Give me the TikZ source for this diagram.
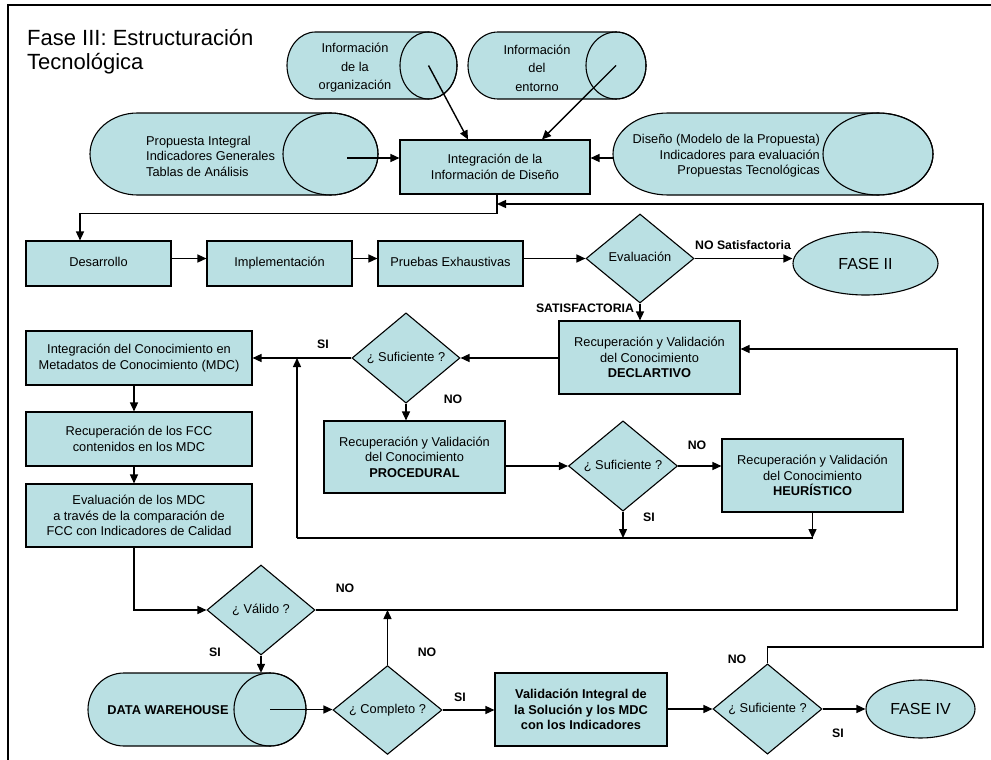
\documentclass[tikz,border=0pt]{standalone}
\usepackage{fontspec}
\setmainfont{Liberation Sans}
\usetikzlibrary{shapes.geometric,arrows.meta}
\definecolor{flowfill}{RGB}{186,224,227}
\newcommand\bodyfont{\fontsize{12.8}{15.5}\selectfont}
\tikzset{
  outline/.style={draw=black, line width=1.1pt, fill=flowfill},
  procbox/.style={outline, rectangle, inner sep=0pt, align=center, font=\bodyfont},
  decision/.style={outline, diamond, inner sep=0pt, align=center, font=\bodyfont},
  terminal/.style={outline, ellipse, inner sep=0pt, font=\fontsize{16}{18}\selectfont},
  oneline/.style={text height=9.3pt, text depth=2.7pt},
  flow/.style={line width=1.4pt, -{Triangle[length=9pt,width=8pt]}},
  plain/.style={line width=1.4pt},
  tag/.style={font=\bfseries\fontsize{12.3}{14}\selectfont, inner sep=0pt},
  drumtext/.style={inner sep=0pt, font=\bodyfont},
}
% horizontal drum: name, left, right, top, bottom, end radius
\newcommand\drumshape[6]{%
  \filldraw[outline] ({#2+#6},#4) -- ({#3-#6},#4)
     arc[start angle=270, end angle=450, x radius=#6, y radius={(#5-#4)/2}]
     -- ({#2+#6},#5)
     arc[start angle=90, end angle=270, x radius=#6, y radius={(#5-#4)/2}] -- cycle;
  \draw[line width=1.1pt] ({#3-#6},{(#4+#5)/2}) ellipse [x radius=#6, y radius={(#5-#4)/2}];
  \coordinate (#1) at ({#3-#6},{(#4+#5)/2});
  \node[inner sep=0pt, minimum width={#3-#2}, minimum height={#5-#4}] (#1-body) at ({(#2+#3)/2},{(#4+#5)/2}) {};
}
\begin{document}
\begin{tikzpicture}[x=1pt, y=-1pt]
\useasboundingbox (0,0) rectangle (991,760);
\fill[white] (0,0) rectangle (991,760);

% frame
\draw[line width=1.8pt] (8,760) -- (8,5) -- (991,5);

% heading
\node[anchor=base west, inner sep=0pt, font=\fontsize{22}{24}\selectfont] (title1) at (27,46) {Fase III: Estructuración};
\node[anchor=base west, inner sep=0pt, font=\fontsize{22}{24}\selectfont] (title2) at (27,70) {Tecnológica};

% information sources
\drumshape{org}{287}{457}{32}{99}{28.5}
\node[drumtext, align=center, font=\fontsize{12.8}{18.5}\selectfont] (orgtxt) at (355,68) {Información\\de la\\organización};
\drumshape{ent}{468}{646}{32}{99}{30}
\node[drumtext, align=center, font=\fontsize{12.8}{18.5}\selectfont] (enttxt) at (537,68) {Información\\del\\entorno};
\drumshape{prop}{90}{378}{113}{195}{47.5}
\node[drumtext, anchor=west, align=left] (proptxt) at (146,156) {Propuesta Integral\\Indicadores Generales\\Tablas de Análisis};
\drumshape{dis}{613}{933}{113}{195}{55}
\node[drumtext, anchor=east, align=right] (distxt) at (820,156) {Diseño (Modelo de la Propuesta)\\Indicadores para evaluación\\Propuestas Tecnológicas};

\node[procbox, minimum width=190pt, minimum height=54pt] (integ) at (495,167) {Integración de la\\Información de Diseño};

% development row
\node[procbox, oneline, minimum width=145pt, minimum height=45pt] (des) at (98.5,263.5) {Desarrollo};
\node[procbox, oneline, minimum width=145pt, minimum height=45pt] (imp) at (279.5,263.5) {Implementación};
\node[procbox, oneline, minimum width=145pt, minimum height=45pt] (pru) at (450.5,263.5) {Pruebas Exhaustivas};
\node[decision, oneline, minimum width=108pt, minimum height=89pt] (eval) at (640,258.5) {Evaluación};
\node[terminal, minimum width=145pt, minimum height=63pt, text height=11.5pt, text depth=0pt] (fase2) at (865.5,263.5) {FASE II};

% knowledge recovery
\node[procbox, minimum width=181pt, minimum height=73pt] (decl) at (649.5,357.5) {Recuperación y Validación\\del Conocimiento\\\textbf{DECLARTIVO}};
\node[decision, oneline, minimum width=108pt, minimum height=90pt] (suf1) at (406,358) {¿ Suficiente ?};
\node[procbox, minimum width=181pt, minimum height=72pt] (proc) at (414.5,457) {Recuperación y Validación\\del Conocimiento\\\textbf{PROCEDURAL}};
\node[decision, oneline, minimum width=109pt, minimum height=89pt] (suf2) at (623,466) {¿ Suficiente ?};
\node[procbox, minimum width=181pt, minimum height=73pt] (heur) at (812.5,475.5) {Recuperación y Validación\\del Conocimiento\\\textbf{HEURÍSTICO}};

% metadata column
\node[procbox, minimum width=226pt, minimum height=54pt] (intc) at (139,358) {Integración del Conocimiento en\\Metadatos de Conocimiento (MDC)};
\node[procbox, minimum width=226pt, minimum height=54pt] (fcc) at (139,439) {Recuperación de los FCC\\contenidos en los MDC};
\node[procbox, minimum width=226pt, minimum height=63pt] (evm) at (139,515.5) {Evaluación de los MDC\\a través de la comparación de\\FCC con Indicadores de Calidad};

% validation row
\node[decision, oneline, minimum width=108pt, minimum height=90pt] (valido) at (261,610) {¿ Válido ?};
\drumshape{dw}{88}{306}{673}{746}{36}
\node[drumtext, oneline, font=\bfseries\fontsize{12.8}{15.5}\selectfont] (dwtxt) at (168,711) {DATA WAREHOUSE};
\node[decision, oneline, minimum width=109pt, minimum height=88pt] (compl) at (387.5,710) {¿ Completo ?};
\node[procbox, font=\bfseries\fontsize{12.8}{15.5}\selectfont, minimum width=172pt, minimum height=73pt] (valint) at (581,709.5) {Validación Integral de\\la Solución y los MDC\\con los Indicadores};
\node[decision, oneline, minimum width=109pt, minimum height=88pt] (suf3) at (767.5,709) {¿ Suficiente ?};
\node[terminal, minimum width=109pt, minimum height=58pt, text height=11.5pt, text depth=0pt] (fase4) at (920.5,709) {FASE IV};

% routing points
\coordinate (propout) at (347,158);
\coordinate (idn) at ([xshift=2pt]integ.south);
\coordinate (join) at (297,538);
\coordinate (r1) at (957,349);
\coordinate (r2) at (983,647);
\coordinate (r3) at (983,204);

% connectors
\draw[flow] (org) -- ([xshift=-27pt]integ.north);
\draw[flow] (ent) -- ([xshift=47pt]integ.north);
\draw[flow] (propout) -- (propout -| integ.west);
\draw[flow] (dis-body.west |- propout) -- (propout -| integ.east);
\draw[flow] (idn) -- ++(0,19) -| ([xshift=-18.5pt]des.north);
\draw[flow] (des.east |- eval) -- (imp.west |- eval);
\draw[flow] (imp.east |- eval) -- (pru.west |- eval);
\draw[flow] (pru.east |- eval) -- (eval.west);
\draw[flow] (eval.east) -- (eval.east -| fase2.west);
\draw[flow] (eval.south) -- (eval.south |- decl.north);
\draw[flow] (decl.west |- suf1) -- (suf1.east);
\draw[flow] (suf1.west) -- (suf1.west -| intc.east);
\draw[flow] (suf1.south) -- (suf1.south |- proc.north);
\draw[flow] (proc.east |- suf2) -- (suf2.west);
\draw[flow] (suf2.east) -- (suf2.east -| heur.west);
\draw[flow] (suf2.south) -- (suf2.south |- join);
\draw[flow] (heur.south) -- (heur.south |- join);
\draw[plain] (heur.south |- join) -- (join);
\draw[flow] (join) -- (join |- suf1);
\draw[flow] ([xshift=-5pt]intc.south) -- ([xshift=-5pt]fcc.north);
\draw[flow] ([xshift=-5pt]fcc.south) -- ([xshift=-5pt]evm.north);
\draw[flow] ([xshift=-5pt]evm.south) |- (valido.west);
\draw[flow] (valido.east) -| (r1) -- (r1 -| decl.east);
\draw[flow] (valido.south) -- (valido.south |- dw-body.north);
\draw[flow] (dw) -- (dw -| compl.west);
\draw[flow] (compl.north) -- (compl.north |- valido);
\draw[flow] (compl.east) -- (compl.east -| valint.west);
\draw[flow] (valint.east |- suf3) -- (suf3.west);
\draw[flow] (suf3.east) -- (suf3.east -| fase4.west);
\draw[flow] (suf3.north) |- (r2) -- (r3) -- (r3 -| idn);

% branch labels
\node[tag] (lbl-nosat) at (743,245) {NO Satisfactoria};
\node[tag] (lbl-sat) at (585,308) {SATISFACTORIA};
\node[tag] (lbl-si1) at (323,344) {SI};
\node[tag] (lbl-no1) at (453,399) {NO};
\node[tag] (lbl-no2) at (697,445) {NO};
\node[tag] (lbl-si2) at (649,517) {SI};
\node[tag] (lbl-no3) at (345,588) {NO};
\node[tag] (lbl-si3) at (215,652) {SI};
\node[tag] (lbl-no4) at (427,652) {NO};
\node[tag] (lbl-si4) at (460,697) {SI};
\node[tag] (lbl-no5) at (737,659) {NO};
\node[tag] (lbl-si5) at (838,733) {SI};
\end{tikzpicture}
\end{document}
